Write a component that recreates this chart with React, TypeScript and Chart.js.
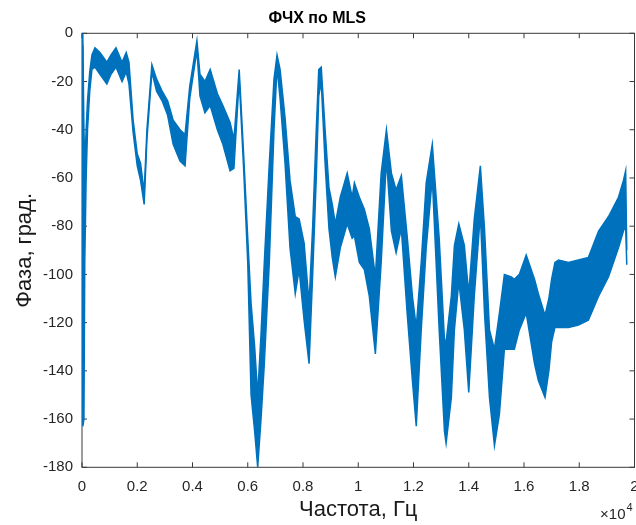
import React, { useEffect, useRef } from "react";
import { Chart, registerables } from "chart.js";

Chart.register(...registerables);

// Frequency, ×10^4 Hz
const freqX = [
  0.0, 0.003, 0.007, 0.01, 0.015, 0.02, 0.028, 0.036, 0.047, 0.065, 0.09, 0.105, 0.123, 0.145, 0.16, 0.17,
  0.185, 0.2, 0.212, 0.225, 0.235, 0.253, 0.27, 0.29, 0.31, 0.33, 0.355, 0.373, 0.39, 0.416, 0.427, 0.445,
  0.464, 0.49, 0.51, 0.536, 0.55, 0.569, 0.585, 0.6, 0.612, 0.625, 0.636, 0.648, 0.66, 0.678, 0.695, 0.706,
  0.717, 0.735, 0.753, 0.772, 0.786, 0.804, 0.822, 0.835, 0.848, 0.857, 0.866, 0.88, 0.894, 0.906, 0.917,
  0.935, 0.96, 0.978, 0.986, 1.004, 1.022, 1.04, 1.062, 1.083, 1.102, 1.12, 1.137, 1.156, 1.177, 1.196,
  1.21, 1.228, 1.246, 1.268, 1.293, 1.312, 1.318, 1.337, 1.348, 1.364, 1.384, 1.4, 1.42, 1.442, 1.457,
  1.475, 1.493, 1.511, 1.529, 1.554, 1.565, 1.583, 1.608, 1.638, 1.652, 1.676, 1.69, 1.7, 1.712, 1.725,
  1.761, 1.797, 1.833, 1.87, 1.906, 1.942, 1.96, 1.968, 1.972,
];

// Upper edge of the noisy phase band, degrees
const phaseUpper = [
  0, -2, -40, -55, -40, -28, -16, -9, -6, -8, -12, -9, -6, -12, -8, -12,
  -36, -50, -54, -66, -40, -13, -19, -24, -28, -36, -40, -42, -22, -3, -17, -20,
  -15, -25, -30, -37, -44, -15, -50, -85, -112, -130, -150, -125, -95, -54, -19, -9,
  -15, -35, -61, -76, -77, -87, -112, -80, -40, -15, -14, -40, -64, -71, -79,
  -68, -58, -68, -62, -68, -73, -81, -101, -58, -40, -58, -65, -59, -84, -109,
  -122, -95, -62, -46, -85, -127, -128, -109, -88, -79, -88, -108, -77, -55, -81,
  -123, -131, -116, -100, -101, -102, -100, -92, -102, -108, -117, -110, -102, -95, -94,
  -95, -94, -93, -82, -76, -68, -61, -57, -90,
];

// Lower edge of the noisy phase band, degrees
const phaseLower = [
  -5, -163, -160, -95, -60, -40, -24, -15, -14, -17, -21, -17, -14, -20, -16, -21,
  -41, -55, -61, -71, -44, -16, -24, -28, -34, -46, -53, -55, -27, -7, -26, -33,
  -30, -40, -46, -57, -56, -19, -56, -95, -150, -165, -180, -160, -137, -95, -40, -14,
  -27, -54, -89, -108, -98, -119, -137, -100, -60, -26, -20, -54, -81, -93, -101,
  -89, -79, -85, -84, -95, -98, -109, -133, -95, -52, -82, -91, -81, -116, -144,
  -163, -123, -89, -60, -123, -165, -170, -151, -123, -103, -123, -149, -109, -75, -116,
  -151, -171, -158, -131, -131, -131, -123, -116, -137, -144, -151, -140, -128, -122, -122,
  -122, -121, -119, -109, -101, -89, -82, -80, -96,
];

const xTickLabels = ["0", "0.2", "0.4", "0.6", "0.8", "1", "1.2", "1.4", "1.6", "1.8", "2"];
const yTickLabels = ["-180", "-160", "-140", "-120", "-100", "-80", "-60", "-40", "-20", "0"];

const LINE = "#0072BD";
const AXIS = "#3a3a3a";
const TEXT = "#262626";

const axisBox = {
  id: "axisBox",
  beforeDatasetsDraw(chart: any) {
    const { ctx, chartArea: a, scales } = chart;
    const xs = scales.x;
    const ys = scales.y;
    ctx.save();
    ctx.strokeStyle = AXIS;
    ctx.lineWidth = 1;
    ctx.strokeRect(a.left, a.top, a.right - a.left, a.bottom - a.top);
    const tl = 5;
    ctx.beginPath();
    xs.ticks.forEach((t: any) => {
      const px = xs.getPixelForValue(t.value);
      ctx.moveTo(px, a.bottom);
      ctx.lineTo(px, a.bottom - tl);
      ctx.moveTo(px, a.top);
      ctx.lineTo(px, a.top + tl);
    });
    ys.ticks.forEach((t: any) => {
      const py = ys.getPixelForValue(t.value);
      ctx.moveTo(a.left, py);
      ctx.lineTo(a.left + tl, py);
      ctx.moveTo(a.right, py);
      ctx.lineTo(a.right - tl, py);
    });
    ctx.stroke();
    ctx.restore();
  },
  afterDraw(chart: any) {
    const { ctx, chartArea: a } = chart;
    ctx.save();
    ctx.fillStyle = TEXT;
    ctx.textBaseline = "alphabetic";
    ctx.textAlign = "right";
    ctx.font = "15px 'Liberation Sans', Arial, sans-serif";
    ctx.fillText("\u00d710", a.right - 9, 519);
    ctx.textAlign = "left";
    ctx.font = "11px 'Liberation Sans', Arial, sans-serif";
    ctx.fillText("4", a.right - 8, 511);
    ctx.restore();
  },
};

export default function App() {
  const ref = useRef<HTMLCanvasElement | null>(null);

  useEffect(() => {
    if (!ref.current) return;
    const upper = freqX.map((x, i) => ({ x, y: phaseUpper[i] }));
    const lower = freqX.map((x, i) => ({ x, y: phaseLower[i] }));
    const chart = new Chart(ref.current, {
      type: "line",
      data: {
        datasets: [
          {
            data: upper,
            borderColor: LINE,
            borderWidth: 1.5,
            pointRadius: 0,
            tension: 0,
            fill: false,
          },
          {
            data: lower,
            borderColor: LINE,
            backgroundColor: LINE,
            borderWidth: 1.5,
            pointRadius: 0,
            tension: 0,
            fill: "-1",
          },
        ],
      },
      options: {
        responsive: false,
        animation: false,
        devicePixelRatio: 1,
        layout: { padding: { left: 0, right: 1.5, top: 0, bottom: 0 } },
        plugins: {
          legend: { display: false },
          tooltip: { enabled: false },
          title: {
            display: true,
            text: "ФЧХ по MLS",
            color: "#000",
            font: { family: "'Liberation Sans', Arial, sans-serif", size: 16, weight: "bold", lineHeight: 1.2 },
            padding: { top: 8.9, bottom: 5.2 },
          },
        },
        scales: {
          x: {
            type: "linear",
            position: "bottom",
            min: 0,
            max: 2,
            grid: { display: false, drawTicks: false },
            border: { display: false },
            ticks: {
              stepSize: 0.2,
              autoSkip: false,
              maxRotation: 0,
              padding: 11,
              color: TEXT,
              font: { family: "'Liberation Sans', Arial, sans-serif", size: 15 },
              callback: (_v: any, i: number) => xTickLabels[i],
            },
            title: {
              display: true,
              text: "Частота, Гц",
              color: "#1a1a1a",
              font: { family: "'Liberation Sans', Arial, sans-serif", size: 22, lineHeight: 1.2 },
              padding: { top: 0, bottom: 1.8 },
            },
            afterFit: (s: any) => {
              s.height = 57.7;
              s.paddingLeft = 0;
              s.paddingRight = 0;
            },
          },
          y: {
            type: "linear",
            position: "left",
            min: -180,
            max: 0,
            grid: { display: false, drawTicks: false },
            border: { display: false },
            ticks: {
              stepSize: 20,
              autoSkip: false,
              padding: 9,
              color: TEXT,
              font: { family: "'Liberation Sans', Arial, sans-serif", size: 15 },
              callback: (_v: any, i: number) => yTickLabels[i],
            },
            title: {
              display: true,
              text: "Фаза, град.",
              color: "#1a1a1a",
              font: { family: "'Liberation Sans', Arial, sans-serif", size: 22, lineHeight: 1.2 },
              padding: { top: 11.8, bottom: 0 },
            },
            afterFit: (s: any) => {
              s.width = 82;
              s.paddingTop = 0;
              s.paddingBottom = 0;
            },
          },
        },
      },
      plugins: [axisBox],
    });
    return () => chart.destroy();
  }, []);

  return (
    <div style={{ position: "fixed", left: 0, top: 0, width: 636, height: 525, background: "#fff" }}>
      <canvas ref={ref} width={636} height={525} style={{ width: 636, height: 525, display: "block" }} />
    </div>
  );
}
